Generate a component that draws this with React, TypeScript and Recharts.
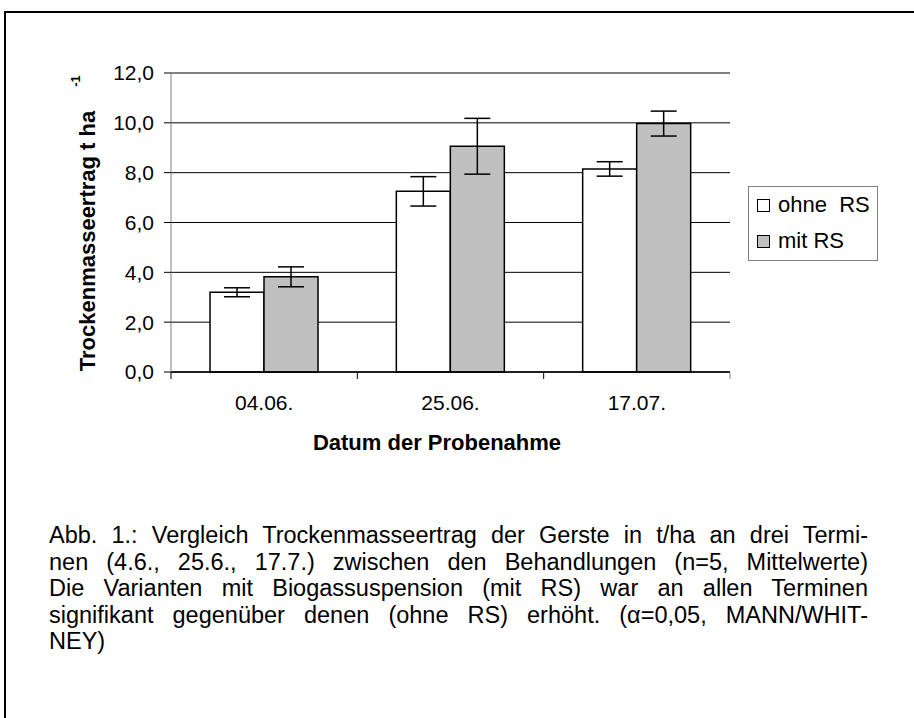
import React from "react";
import { Bar, BarChart, CartesianGrid, ErrorBar, ReferenceLine, XAxis, YAxis } from "recharts";

const categories = ["04.06.", "25.06.", "17.07."];
const ohneRS = [3.2, 7.25, 8.15];
const ohneRSErr = [0.18, 0.59, 0.29];
const mitRS = [3.82, 9.06, 9.97];
const mitRSErr = [0.4, 1.12, 0.5];
const yTicks = [0, 2, 4, 6, 8, 10, 12];

const captionLines = [
    "Abb. 1.: Vergleich Trockenmasseertrag der Gerste in t/ha an drei Termi-",
    "nen (4.6., 25.6., 17.7.) zwischen den Behandlungen (n=5, Mittelwerte)",
    "Die Varianten mit Biogassuspension (mit RS) war an allen Terminen",
    "signifikant gegenüber denen (ohne RS) erhöht. (\u03b1=0,05, MANN/WHIT-",
    "NEY)",
];

const data = categories.map((date, i) => ({
    date,
    ohne: ohneRS[i],
    ohneErr: ohneRSErr[i],
    mit: mitRS[i],
    mitErr: mitRSErr[i],
}));

const FONT = '"Liberation Sans", Arial, sans-serif';
const PLOT_W = 559;
const band = PLOT_W / categories.length;

const XTick = (props: any) => {
    const { x, y, payload, index } = props;
    return (
        <g>
            <line x1={x - band / 2} x2={x - band / 2} y1={y} y2={y + 7} stroke="#000" />
            {index === categories.length - 1 && (
                <line x1={x + band / 2} x2={x + band / 2} y1={y} y2={y + 7} stroke="#808080" />
            )}
            <text x={x} y={y + 38} textAnchor="middle" fontSize={21} fontFamily={FONT} fill="#000">
                {payload.value}
            </text>
        </g>
    );
};

const YLabel = () => (
    <g fontFamily={FONT} fontWeight="bold" fill="#000">
        <text x={95} y={241} transform="rotate(-90 95 241)" textAnchor="middle" fontSize={22}>
            Trockenmasseertrag t ha
        </text>
        <text x={80} y={81} transform="rotate(-90 80 81)" textAnchor="middle" fontSize={13}>
            -1
        </text>
    </g>
);

const XLabel = () => (
    <text x={437} y={450} textAnchor="middle" fontSize={22} fontWeight="bold" fontFamily={FONT} fill="#000">
        Datum der Probenahme
    </text>
);

const Swatch = ({ fill }: { fill: string }) => (
    <span
        style={{
            display: "inline-block",
            width: 11,
            height: 11,
            border: "1px solid #000",
            background: fill,
            marginRight: 8,
        }}
    />
);

export default function App() {
    return (
        <div style={{ position: "fixed", left: 0, top: 0, width: 914, height: 718, overflow: "hidden", background: "#fff", fontFamily: FONT }}>
            <div
                style={{
                    position: "absolute",
                    left: 4,
                    top: 11,
                    width: 960,
                    height: 760,
                    borderLeft: "2px solid #000",
                    borderTop: "2px solid #000",
                }}
            />
            <div style={{ position: "absolute", left: 0, top: 0 }}>
                <BarChart
                    width={914}
                    height={480}
                    data={data}
                    margin={{ top: 73, right: 184, bottom: 18, left: 0 }}
                    barGap={0}
                    barSize={54}
                >
                    <CartesianGrid horizontal vertical={false} stroke="#000" strokeWidth={1} />
                    <XAxis
                        dataKey="date"
                        height={90}
                        tickSize={0}
                        tickMargin={0}
                        tickLine={false}
                        tick={<XTick />}
                        axisLine={{ stroke: "#000", strokeWidth: 1.5 }}
                        label={XLabel}
                    />
                    <YAxis
                        width={171}
                        domain={[0, 12]}
                        ticks={yTicks}
                        interval={0}
                        tickSize={7}
                        tickMargin={10}
                        tickFormatter={(v: number) => v.toFixed(1).replace(".", ",")}
                        tick={{ fill: "#000", fontSize: 21, fontFamily: FONT }}
                        tickLine={{ stroke: "#000" }}
                        axisLine={{ stroke: "#808080" }}
                        label={YLabel}
                    />
                    <YAxis
                        yAxisId="right"
                        orientation="right"
                        width={0}
                        domain={[0, 12]}
                        tick={false}
                        tickLine={false}
                        axisLine={{ stroke: "#808080" }}
                    />
                    <ReferenceLine y={12} stroke="#808080" />
                    <Bar dataKey="ohne" name="ohne  RS" fill="#ffffff" stroke="#000" strokeWidth={1.5} isAnimationActive={false}>
                        <ErrorBar dataKey="ohneErr" width={13} stroke="#000" strokeWidth={1.5} isAnimationActive={false} />
                    </Bar>
                    <Bar dataKey="mit" name="mit RS" fill="#c0c0c0" stroke="#000" strokeWidth={1.5} isAnimationActive={false}>
                        <ErrorBar dataKey="mitErr" width={13} stroke="#000" strokeWidth={1.5} isAnimationActive={false} />
                    </Bar>
                </BarChart>
            </div>
            <div
                style={{
                    position: "absolute",
                    left: 748,
                    top: 186,
                    width: 128,
                    height: 73,
                    border: "1px solid #808080",
                    fontSize: 22,
                    color: "#000",
                }}
            >
                <div style={{ position: "absolute", left: 8, top: 5, whiteSpace: "pre", display: "flex", alignItems: "center" }}>
                    <Swatch fill="#ffffff" />
                    ohne  RS
                </div>
                <div style={{ position: "absolute", left: 8, top: 41, whiteSpace: "pre", display: "flex", alignItems: "center" }}>
                    <Swatch fill="#c0c0c0" />
                    mit RS
                </div>
            </div>
            <div style={{ position: "absolute", left: 49, top: 522, width: 819, fontSize: 23.5, lineHeight: "26.5px", color: "#000" }}>
                {captionLines.map((line, i) => (
                    <div
                        key={i}
                        style={{
                            textAlign: i === captionLines.length - 1 ? "left" : "justify",
                            textAlignLast: i === captionLines.length - 1 ? "left" : "justify",
                            whiteSpace: "nowrap",
                        }}
                    >
                        {line}
                    </div>
                ))}
            </div>
        </div>
    );
}
